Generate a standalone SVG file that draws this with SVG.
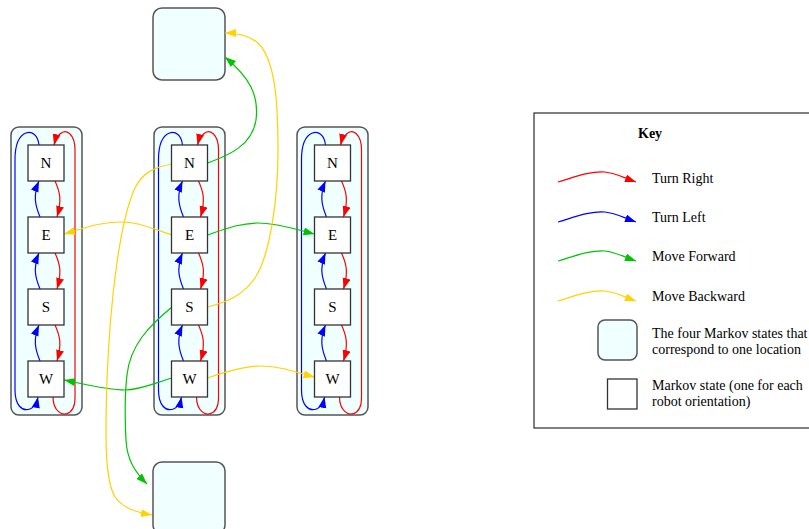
<svg xmlns="http://www.w3.org/2000/svg" width="809" height="529" viewBox="0 0 809 529">
<defs>
<style>
.cl{fill:#f0ffff;stroke:#555;stroke-width:1.5}
.nd{fill:#fff;stroke:#333;stroke-width:1.3}
.lb{font-size:15px;fill:#000;text-anchor:middle}
.kt{font-size:14px;fill:#000}
.e{fill:none;stroke-width:1.2}
.r{stroke:#ff0000;marker-end:url(#ar)}
.b{stroke:#0000ff;marker-end:url(#ab)}
.g{stroke:#00c400;marker-end:url(#ag)}
.y{stroke:#ffd200;marker-end:url(#ay)}
</style>
<marker id="ar" markerUnits="userSpaceOnUse" markerWidth="12" markerHeight="9" refX="11" refY="4" orient="auto"><path d="M0,0 L11,4 L0,8 z" fill="#ff0000"/></marker>
<marker id="ab" markerUnits="userSpaceOnUse" markerWidth="12" markerHeight="9" refX="11" refY="4" orient="auto"><path d="M0,0 L11,4 L0,8 z" fill="#0000ff"/></marker>
<marker id="ag" markerUnits="userSpaceOnUse" markerWidth="12" markerHeight="9" refX="11" refY="4" orient="auto"><path d="M0,0 L11,4 L0,8 z" fill="#00c400"/></marker>
<marker id="ay" markerUnits="userSpaceOnUse" markerWidth="12" markerHeight="9" refX="11" refY="4" orient="auto"><path d="M0,0 L11,4 L0,8 z" fill="#ffd200"/></marker>
</defs>
<rect x="0" y="0" width="809" height="529" fill="#fff"/>

<!-- clusters (locations) -->
<g id="loc-top"><rect class="cl" x="153" y="8" width="72" height="72" rx="9"/></g>
<g id="loc-bottom"><rect class="cl" x="153" y="462" width="72" height="72" rx="9"/></g>
<g id="loc-left"><rect class="cl" x="11" y="127" width="71" height="288" rx="8"/></g>
<g id="loc-mid"><rect class="cl" x="154" y="127" width="71" height="288" rx="8"/></g>
<g id="loc-right"><rect class="cl" x="297" y="127" width="71" height="288" rx="8"/></g>

<!-- connectors -->
<g id="connectors">
  <g transform="translate(28,0)">
    <path class="e r" d="M27,181 C32,192 34,200 29,217"/>
    <path class="e r" d="M27,253 C32,264 34,272 29,289"/>
    <path class="e r" d="M27,325 C32,336 34,344 29,361"/>
    <path class="e b" d="M12,217 C7,205 5,195 11,181"/>
    <path class="e b" d="M12,289 C7,277 5,267 11,253"/>
    <path class="e b" d="M12,361 C7,349 5,339 11,325"/>
    <path class="e r" d="M25,397 C25,410 34,418 42,412 C48,407 47,398 47,390 L47,150 C47,134 38,128 32,134 C29,137 27,141 26,145"/>
    <path class="e b" d="M11,145 C10,135 4,131 -2,133 C-10,136 -13,145 -13,160 L-13,390 C-13,405 -6,412 2,409 C7,407 9,402 10,397"/>
  </g>
  <g transform="translate(171.5,0)">
    <path class="e r" d="M27,181 C32,192 34,200 29,217"/>
    <path class="e r" d="M27,253 C32,264 34,272 29,289"/>
    <path class="e r" d="M27,325 C32,336 34,344 29,361"/>
    <path class="e b" d="M12,217 C7,205 5,195 11,181"/>
    <path class="e b" d="M12,289 C7,277 5,267 11,253"/>
    <path class="e b" d="M12,361 C7,349 5,339 11,325"/>
    <path class="e r" d="M25,397 C25,410 34,418 42,412 C48,407 47,398 47,390 L47,150 C47,134 38,128 32,134 C29,137 27,141 26,145"/>
    <path class="e b" d="M11,145 C10,135 4,131 -2,133 C-10,136 -13,145 -13,160 L-13,390 C-13,405 -6,412 2,409 C7,407 9,402 10,397"/>
  </g>
  <g transform="translate(314.5,0)">
    <path class="e r" d="M27,181 C32,192 34,200 29,217"/>
    <path class="e r" d="M27,253 C32,264 34,272 29,289"/>
    <path class="e r" d="M27,325 C32,336 34,344 29,361"/>
    <path class="e b" d="M12,217 C7,205 5,195 11,181"/>
    <path class="e b" d="M12,289 C7,277 5,267 11,253"/>
    <path class="e b" d="M12,361 C7,349 5,339 11,325"/>
    <path class="e r" d="M25,397 C25,410 34,418 42,412 C48,407 47,398 47,390 L47,150 C47,134 38,128 32,134 C29,137 27,141 26,145"/>
    <path class="e b" d="M11,145 C10,135 4,131 -2,133 C-10,136 -13,145 -13,160 L-13,390 C-13,405 -6,412 2,409 C7,407 9,402 10,397"/>
  </g>
  <path class="e y" d="M172,235 C150,228 140,222 120,222 C100,222 85,228 64,234"/>
  <path class="e g" d="M207.5,235 C225,229 240,223 258,223 C276,223 295,229 314.5,234"/>
  <path class="e g" d="M172,378 C155,383 140,390 125,390 C105,390 85,384 64,380"/>
  <path class="e y" d="M207.5,378 C225,372 245,366 260,366 C280,366 295,372 314.5,377"/>
  <path class="e g" d="M207.5,163 C230,155 252,145 256,120 C259,95 250,78 225,57"/>
  <path class="e y" d="M207.5,307 C228,302 243,295 255,278 C270,255 278,200 278,150 C278,100 275,60 258,43 C250,36 238,33 225,33"/>
  <path class="e g" d="M172,307 C150,325 130,345 127,375 C124,400 125,420 126,440 C127,460 135,472 147,484"/>
  <path class="e y" d="M172,164 C155,167 143,172 135,188 C120,220 110,300 107,380 C105,440 105,480 115,497 C123,508 135,512 152,515"/>
</g>

<!-- nodes -->
<g font-family="Liberation Serif, Times New Roman, serif">
<g id="L-N"><rect class="nd" x="28" y="145" width="36" height="36"/><text class="lb" x="46" y="168">N</text></g>
<g id="L-E"><rect class="nd" x="28" y="217" width="36" height="36"/><text class="lb" x="46" y="240">E</text></g>
<g id="L-S"><rect class="nd" x="28" y="289" width="36" height="36"/><text class="lb" x="46" y="312">S</text></g>
<g id="L-W"><rect class="nd" x="28" y="361" width="36" height="36"/><text class="lb" x="46" y="384">W</text></g>
<g id="M-N"><rect class="nd" x="171.5" y="145" width="36" height="36"/><text class="lb" x="189.5" y="168">N</text></g>
<g id="M-E"><rect class="nd" x="171.5" y="217" width="36" height="36"/><text class="lb" x="189.5" y="240">E</text></g>
<g id="M-S"><rect class="nd" x="171.5" y="289" width="36" height="36"/><text class="lb" x="189.5" y="312">S</text></g>
<g id="M-W"><rect class="nd" x="171.5" y="361" width="36" height="36"/><text class="lb" x="189.5" y="384">W</text></g>
<g id="R-N"><rect class="nd" x="314.5" y="145" width="36" height="36"/><text class="lb" x="332.5" y="168">N</text></g>
<g id="R-E"><rect class="nd" x="314.5" y="217" width="36" height="36"/><text class="lb" x="332.5" y="240">E</text></g>
<g id="R-S"><rect class="nd" x="314.5" y="289" width="36" height="36"/><text class="lb" x="332.5" y="312">S</text></g>
<g id="R-W"><rect class="nd" x="314.5" y="361" width="36" height="36"/><text class="lb" x="332.5" y="384">W</text></g>
</g>

<!-- key -->
<g id="key" font-family="Liberation Serif, Times New Roman, serif">
  <rect x="534" y="113" width="290" height="315" fill="#fff" stroke="#000" stroke-width="1"/>
  <text x="638" y="138" font-size="14" font-weight="bold">Key</text>
  <path class="e r" d="M558,182 C575,177 590,171 605,172 C615,173 622,177 636,182"/>
  <text class="kt" x="652" y="183">Turn Right</text>
  <path class="e b" d="M558,222 C575,217 590,211 605,212 C615,213 622,217 636,222"/>
  <text class="kt" x="652" y="222">Turn Left</text>
  <path class="e g" d="M558,261 C575,256 590,250 605,251 C615,252 622,256 636,261"/>
  <text class="kt" x="652" y="261">Move Forward</text>
  <path class="e y" d="M558,301 C575,296 590,290 605,291 C615,292 622,296 636,301"/>
  <text class="kt" x="652" y="301">Move Backward</text>
  <rect class="cl" x="598" y="320" width="39" height="40" rx="7"/>
  <text class="kt" x="652" y="338">The four Markov states that</text>
  <text class="kt" x="652" y="354">correspond to one location</text>
  <rect class="nd" x="607.5" y="379" width="29.5" height="30"/>
  <text class="kt" x="652" y="390">Markov state (one for each</text>
  <text class="kt" x="652" y="406">robot orientation)</text>
</g>
</svg>
